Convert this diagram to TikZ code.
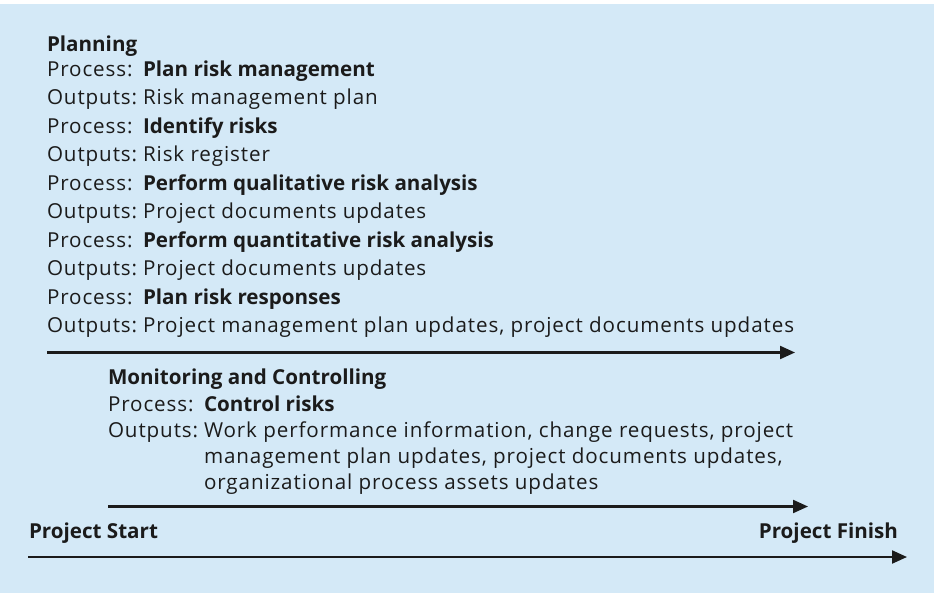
\documentclass[tikz,border=0pt]{standalone}
\usepackage{fontspec}
\setmainfont{Open Sans}
\newfontfamily\widesans[LetterSpace=4.4]{Open Sans}
\usetikzlibrary{arrows.meta}
\definecolor{panel}{HTML}{D4E9F7}
\definecolor{ink}{HTML}{1B1B1B}
\begin{document}
\begin{tikzpicture}[x=1pt,y=-1pt,
  txt/.style={anchor=base west,inner sep=0pt,outer sep=0pt,text=ink,font=\widesans\fontsize{20.6}{24}\selectfont},
  bold/.style={txt,font=\fontsize{20.6}{24}\selectfont\bfseries},
  timeline/.style={draw=ink,line width=2.2pt,-{Triangle[length=15pt,width=13pt]}}]
  % background panel
  \fill[white] (0,0) rectangle (934,593);
  \fill[panel] (0,4) rectangle (934,593);
  \useasboundingbox (0,0) rectangle (934,593);

  % Planning group
  \node[bold] (plan) at (47,52) {Planning};
  \node[txt]  (p1l) at (47,76.5)  {Process:};   \node[bold] (p1v) at (143,76.5)  {Plan risk management};
  \node[txt]  (o1l) at (47,105)   {Outputs:};   \node[txt]  (o1v) at (143,105)   {Risk management plan};
  \node[txt]  (p2l) at (47,133.5) {Process:};   \node[bold] (p2v) at (143,133.5) {Identify risks};
  \node[txt]  (o2l) at (47,162)   {Outputs:};   \node[txt]  (o2v) at (143,162)   {Risk register};
  \node[txt]  (p3l) at (47,190.5) {Process:};   \node[bold] (p3v) at (143,190.5) {Perform qualitative risk analysis};
  \node[txt]  (o3l) at (47,219)   {Outputs:};   \node[txt]  (o3v) at (143,219)   {Project documents updates};
  \node[txt]  (p4l) at (47,247.5) {Process:};   \node[bold] (p4v) at (143,247.5) {Perform quantitative risk analysis};
  \node[txt]  (o4l) at (47,276)   {Outputs:};   \node[txt]  (o4v) at (143,276)   {Project documents updates};
  \node[txt]  (p5l) at (47,304.5) {Process:};   \node[bold] (p5v) at (143,304.5) {Plan risk responses};
  \node[txt]  (o5l) at (47,333)   {Outputs:};   \node[txt]  (o5v) at (143,333)   {Project management plan updates, project documents updates};

  \coordinate (a1s) at (47,352.5);
  \coordinate (a1e) at (795,352.5);
  \draw[timeline] (a1s) -- (a1e);

  % Monitoring and Controlling group
  \node[bold] (mon) at (108,384.5) {Monitoring and Controlling};
  \node[txt]  (p6l) at (108,411.5) {Process:};   \node[bold] (p6v) at (204,411.5) {Control risks};
  \node[txt]  (o6l) at (108,437.5) {Outputs:};   \node[txt]  (o6a) at (204,437.5) {Work performance information, change requests, project};
  \node[txt]  (o6b) at (204,463.5) {management plan updates, project documents updates,};
  \node[txt]  (o6c) at (204,489.5) {organizational process assets updates};

  \coordinate (a2s) at (108,506.5);
  \coordinate (a2e) at (808,506.5);
  \draw[timeline] (a2s) -- (a2e);

  % Project timeline
  \node[bold] (start) at (29,538.5) {Project Start};
  \node[bold,anchor=base east] (finish) at (898,538.5) {Project Finish};
  \coordinate (a3s) at (28,557);
  \coordinate (a3e) at (907,557);
  \draw[timeline] (a3s) -- (a3e);
\end{tikzpicture}
\end{document}
